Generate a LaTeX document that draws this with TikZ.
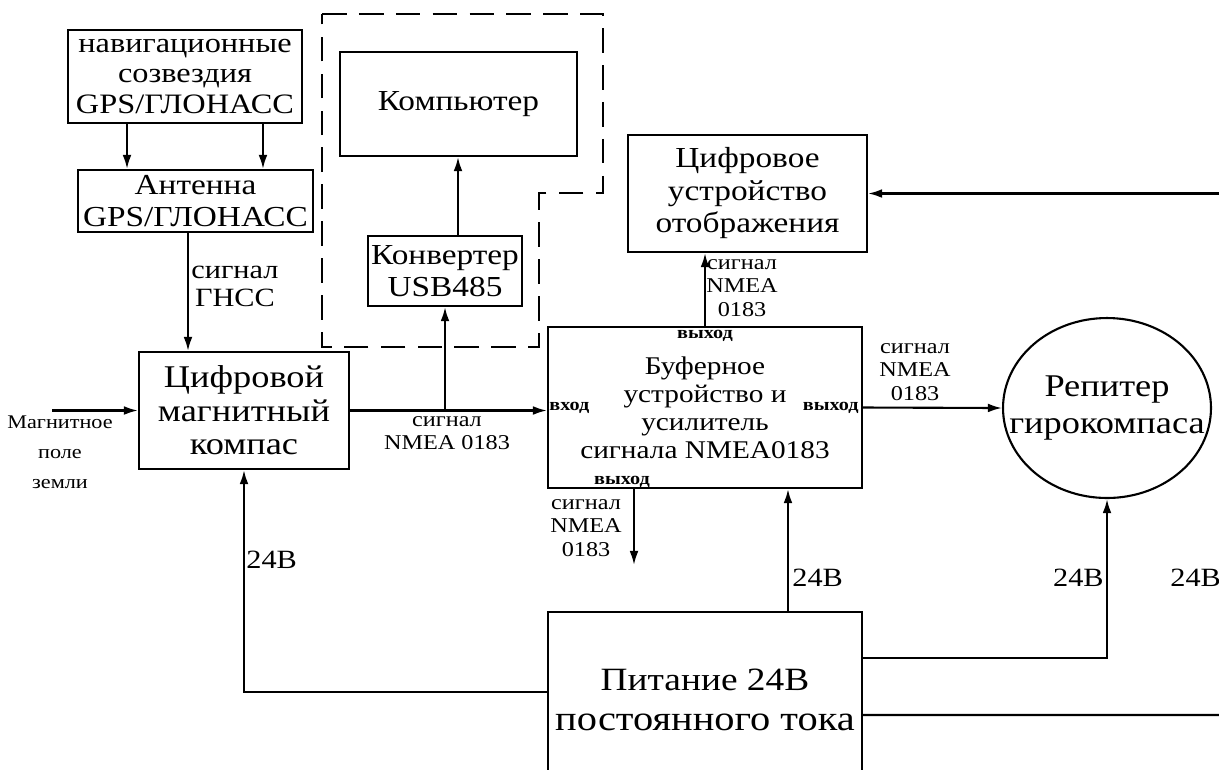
\documentclass[tikz,border=0pt]{standalone}
\usepackage{fontspec}
\setmainfont{Liberation Serif}[FakeStretch=1.15]
\usetikzlibrary{arrows.meta,shapes.geometric}
\begin{document}
\begin{tikzpicture}[x=0.02cm, y=-0.02cm,
  blok/.style={draw, line width=1.2pt, align=center, inner sep=0pt, font=\fontsize{16}{17.5}\selectfont},
  arr/.style={line width=1.2pt, -{Latex[length=8pt,width=5pt]}},
  wire/.style={line width=1.2pt},
  txt/.style={align=center, inner sep=0pt, font=\fontsize{12}{13.5}\selectfont},
  port/.style={inner sep=0pt, font=\fontsize{10}{11}\bfseries},
  volt/.style={inner sep=0pt, anchor=west, font=\fontsize{15}{17}\selectfont}]
\useasboundingbox (0,0) rectangle (1219,769);
\clip (0,0) rectangle (1219,769);
\draw[line width=1.3pt, dash pattern=on 14pt off 7pt] (322,14) -- (603,14) -- (603,193) -- (539,193) -- (539,347) -- (322,347) -- cycle;
\node[blok, minimum width=4.68cm, minimum height=1.86cm] (nav) at (185,76.5) {навигационные\\созвездия\\GPS/ГЛОНАСС};
\node[blok, minimum width=4.70cm, minimum height=1.24cm, font=\fontsize{16.5}{18}\selectfont] (ant) at (195.5,201) {Антенна\\GPS/ГЛОНАСС};
\node[blok, minimum width=4.20cm, minimum height=2.34cm, font=\fontsize{18}{19}\selectfont] (comp) at (244,410.5) {Цифровой\\магнитный\\компас};
\node[blok, minimum width=4.74cm, minimum height=2.08cm, font=\fontsize{16.5}{18}\selectfont] (pc) at (458.5,104) {Компьютер};
\node[blok, minimum width=3.08cm, minimum height=1.40cm, font=\fontsize{16.5}{18}\selectfont] (conv) at (445,271) {Конвертер\\USB485};
\node[blok, minimum width=4.78cm, minimum height=2.34cm, font=\fontsize{16.5}{18.5}\selectfont] (disp) at (747.5,193.5) {Цифровое\\устройство\\отображения};
\node[blok, minimum width=6.28cm, minimum height=3.22cm, font=\fontsize{14.5}{16}\selectfont] (buf) at (705,407.5) {Буферное\\устройство и\\усилитель\\сигнала NMEA0183};
\node[blok, ellipse, minimum width=4.16cm, minimum height=3.6cm, label={[align=center, font=\fontsize{18}{21.5}\selectfont]center:Репитер\\гирокомпаса}] (rep) at (1107,408) {};
\node[blok, minimum width=6.28cm, minimum height=3.52cm, font=\fontsize{18.5}{23}\selectfont] (pwr) at (705,700) {Питание 24В\\{\fontsize{20}{22}\selectfont постоянного тока}};
\coordinate (mag) at (52,410.5);
\coordinate (dispin) at (1219,193.5);
\coordinate (bufout) at (634,565);
\coordinate (pwrout) at (1219,715);
\draw[arr] ([xshift=-1.16cm]nav.south) -- ([xshift=-1.16cm]nav.south |- ant.north);
\draw[arr] ([xshift=1.56cm]nav.south) -- ([xshift=1.56cm]nav.south |- ant.north);
\draw[arr] ([xshift=-0.15cm]ant.south) -- ([xshift=-0.15cm]ant.south |- comp.north);
\draw[arr] (mag) -- (comp.west);
\draw[arr] (comp.east) -- (comp.east -| buf.west);
\draw[arr] (comp.east -| conv.south) -- (conv.south);
\draw[arr] ([xshift=0.26cm]conv.north) -- ([xshift=0.26cm]conv.north |- pc.south);
\draw[arr] (buf.north) -- (buf.north |- disp.south);
\draw[arr] (dispin) -- (disp.east);
\draw[arr] (buf.east) -- (rep.west);
\draw[arr] (buf.south -| bufout) -- (bufout);
\draw[arr] ([xshift=1.66cm]pwr.north) -- ([xshift=1.66cm]pwr.north |- buf.south);
\draw[arr] ([yshift=0.84cm]pwr.east) -| (rep.south);
\draw[wire] ([yshift=-0.3cm]pwr.east) -- (pwrout);
\draw[arr] ([yshift=0.16cm]pwr.west) -| (comp.south);
\node[txt, anchor=west, font=\fontsize{15}{16}\selectfont] (gnss) at (191,286) {сигнал\\ГНСС};
\node[txt, font=\fontsize{11}{17}\selectfont] (magtxt) at (60,452) {Магнитное\\поле\\земли};
\node[txt] (sig1) at (447,433) {сигнал\\NMEA 0183};
\node[txt] (sig2) at (742,288) {сигнал\\NMEA\\0183};
\node[txt] (sig3) at (915,372) {сигнал\\NMEA\\0183};
\node[txt] (sig4) at (586,528) {сигнал\\NMEA\\0183};
\node[port, anchor=west] (in1) at (549,408) {вход};
\node[port, anchor=east] (out1) at (859,408) {выход};
\node[port] (out2) at (705,336) {выход};
\node[port] (out3) at (622,482) {выход};
\node[volt] (v1) at (246,560) {24В};
\node[volt] (v2) at (792,578) {24В};
\node[volt, anchor=east] (v3) at (1104,578) {24В};
\node[volt] (v4) at (1170,578) {24В};
\end{tikzpicture}
\end{document}
